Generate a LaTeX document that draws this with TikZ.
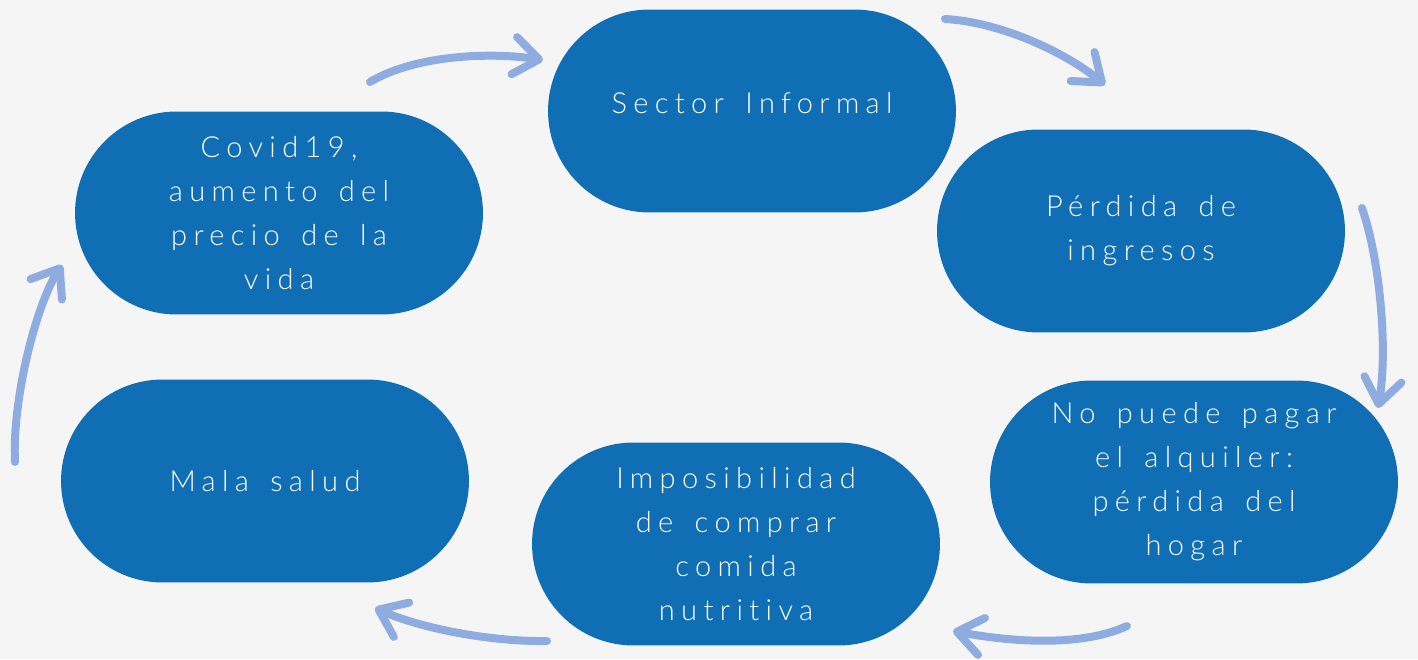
\documentclass[tikz,border=0pt]{standalone}
\usepackage{fontspec}
\setmainfont{Lato Light}[LetterSpace=22, WordSpace=1.5, Ligatures=NoCommon]
\usetikzlibrary{arrows.meta}
\definecolor{azul}{RGB}{16,110,180}
\definecolor{celeste}{RGB}{142,172,224}
\definecolor{fondo}{RGB}{245,245,245}
\begin{document}
\begin{tikzpicture}[
        x=0.02cm, y=-0.02cm,
        etapa/.style={fill=azul, text=white, rounded corners=2.03cm,
                minimum width=8.16cm, minimum height=4.06cm, align=center,
                font=\fontsize{16.5}{25}\selectfont},
        flecha/.style={draw=celeste, line width=0.16cm, line cap=round,
                -{Straight Barb[length=0.5cm, width=0.75cm, round]}}
    ]
    \fill[fondo] (0,0) rectangle (1418,659);
    \node[etapa] (sector) at (752,111) {\raisebox{0.33cm}{Sector Informal}};
    \node[etapa] (ingresos) at (1141,231) {Pérdida de\\ingresos};
    \node[etapa] (hogar) at (1194,482) {No puede pagar\\el alquiler:\\pérdida del\\hogar};
    \node[etapa] (comida) at (736,544) {Imposibilidad\\de comprar\\comida\\nutritiva};
    \node[etapa] (salud) at (265,481) {Mala salud};
    \node[etapa] (covid) at (279,213) {Covid19,\\aumento del\\precio de la\\vida};
    % extremos de las flechas
    \coordinate (a0) at (370,82);   \coordinate (a1) at (543,60);
    \coordinate (b0) at (945,19);   \coordinate (b1) at (1105,85);
    \coordinate (c0) at (1362,208); \coordinate (c1) at (1378,408);
    \coordinate (d0) at (1127,626); \coordinate (d1) at (953,631);
    \coordinate (e0) at (547,641);  \coordinate (e1) at (375,608);
    \coordinate (f0) at (15,462);   \coordinate (f1) at (62,265);
    \draw[flecha] (a0) .. controls (415,55) and (490,52) .. (a1);
    \draw[flecha] (b0) .. controls (1000,22) and (1065,52) .. (b1);
    \draw[flecha] (c0) .. controls (1380,260) and (1388,350) .. (c1);
    \draw[flecha] (d0) .. controls (1075,650) and (995,639) .. (d1);
    \draw[flecha] (e0) .. controls (490,642) and (420,628) .. (e1);
    \draw[flecha] (f0) .. controls (12,400) and (36,305) .. (f1);
\end{tikzpicture}
\end{document}
